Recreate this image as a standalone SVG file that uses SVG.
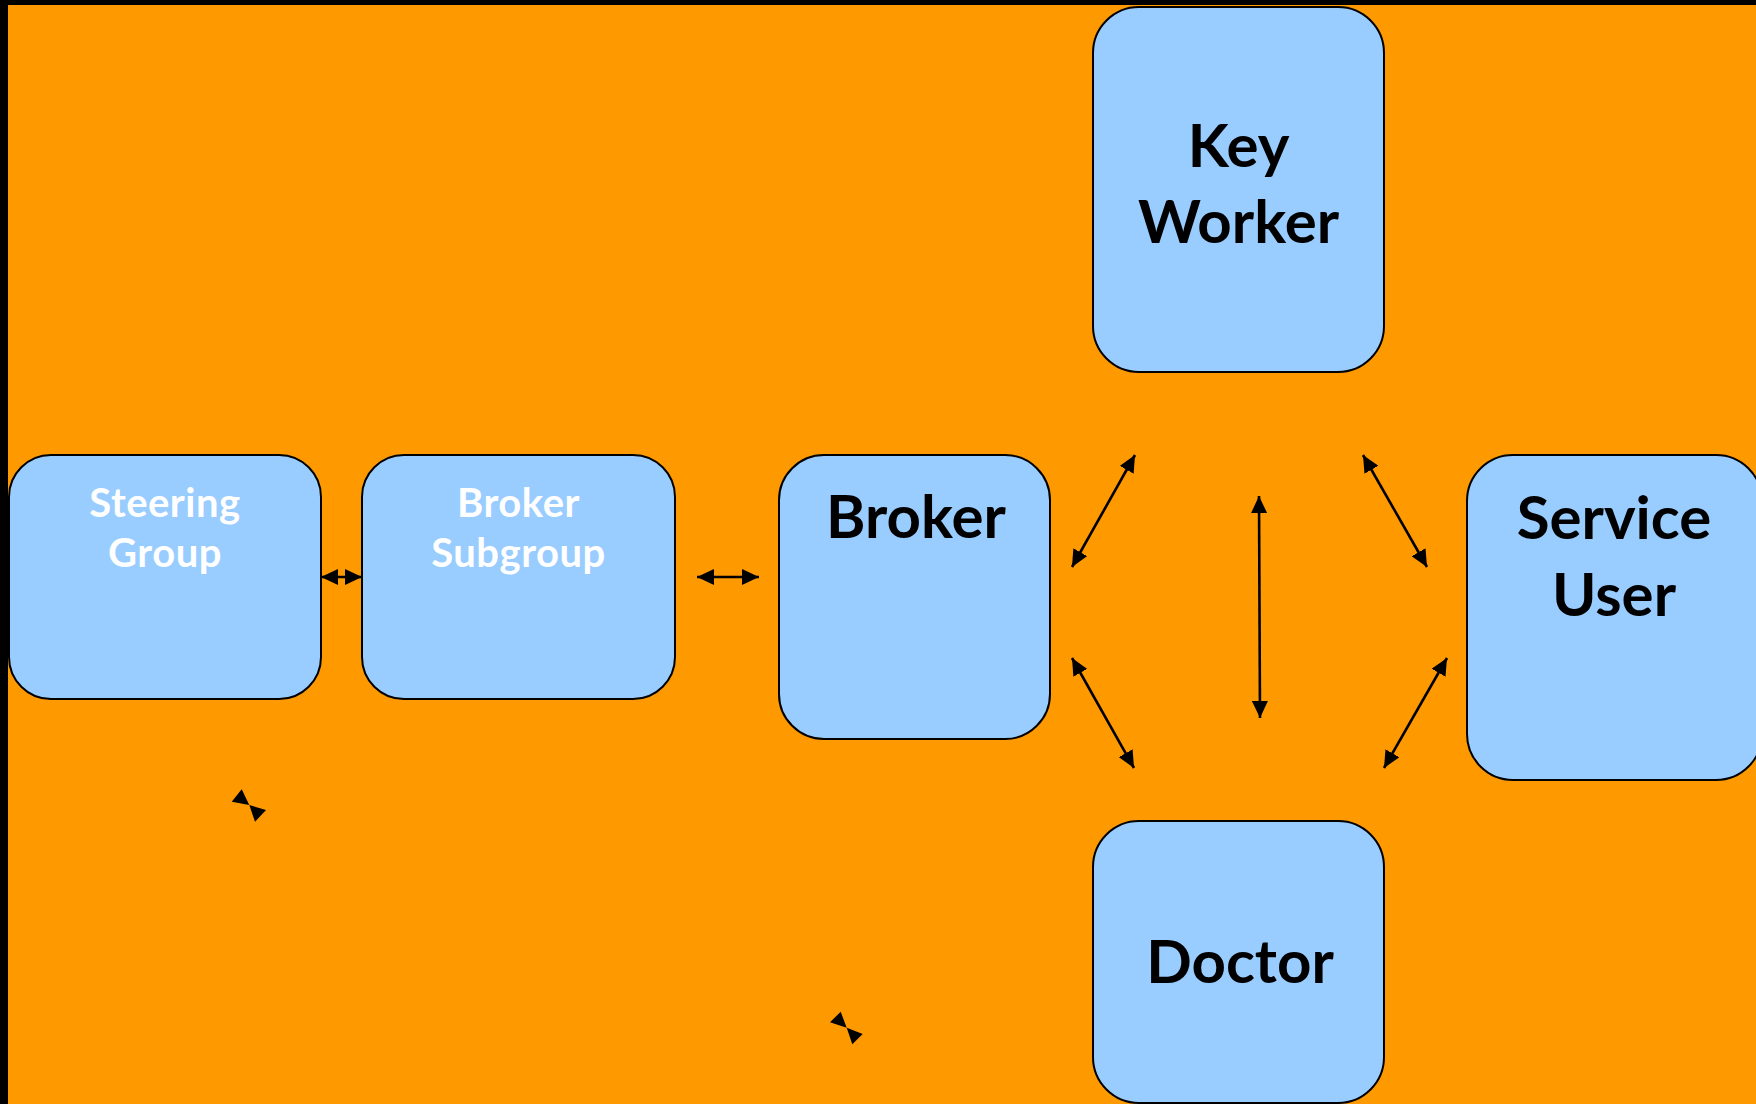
<svg xmlns="http://www.w3.org/2000/svg" width="1756" height="1104" viewBox="0 0 1756 1104">
<style>
.box{fill:#99CCFF;stroke:#000;stroke-width:2}
.big{font-family:Lato,"Liberation Sans",sans-serif;font-weight:bold;font-size:60px;fill:#000;text-anchor:middle}
.small{font-family:Lato,"Liberation Sans",sans-serif;font-weight:bold;font-size:40px;letter-spacing:0.5px;fill:#fff;text-anchor:middle}
.conn{stroke:#000;stroke-width:2.6;fill:none;marker-start:url(#ah);marker-end:url(#ah)}
.head{fill:#000}
</style>
<defs>
<marker id="ah" markerUnits="userSpaceOnUse" markerWidth="17" markerHeight="16" refX="17" refY="8" orient="auto-start-reverse" viewBox="0 0 17 16">
<path d="M0,0 L17,8 L0,16 z" fill="#000"/>
</marker>
</defs>
<rect x="0" y="0" width="1756" height="1104" fill="#000"/>
<rect x="8" y="5" width="1748" height="1099" fill="#FF9900"/>

<g id="steering-group">
<rect class="box" x="9" y="455" width="312" height="244" rx="42" ry="42"/>
<text class="small" x="165" y="517">Steering</text>
<text class="small" x="165" y="567">Group</text>
</g>
<g id="broker-subgroup">
<rect class="box" x="362" y="455" width="313" height="244" rx="42" ry="42"/>
<text class="small" x="518.5" y="517">Broker</text>
<text class="small" x="518.5" y="567">Subgroup</text>
</g>
<g id="broker">
<rect class="box" x="779" y="455" width="271" height="284" rx="45" ry="45"/>
<text class="big" x="916" y="538">Broker</text>
</g>
<g id="key-worker">
<rect class="box" x="1093" y="7" width="291" height="365" rx="46" ry="46"/>
<text class="big" x="1238.5" y="167">Key</text>
<text class="big" x="1238.5" y="243">Worker</text>
</g>
<g id="service-user">
<rect class="box" x="1467" y="455" width="295" height="325" rx="46" ry="46"/>
<text class="big" x="1614" y="539">Service</text>
<text class="big" x="1614" y="616">User</text>
</g>
<g id="doctor">
<rect class="box" x="1093" y="821" width="291" height="282" rx="46" ry="46"/>
<text class="big" x="1240" y="983">Doctor</text>
</g>

<g id="connectors">
<line class="conn" x1="321" y1="577" x2="362" y2="577"/>
<line class="conn" x1="697" y1="577" x2="759" y2="577"/>
<line class="conn" x1="1135" y1="455" x2="1072" y2="567"/>
<line class="conn" x1="1072" y1="658" x2="1134" y2="768"/>
<line class="conn" x1="1259" y1="496" x2="1260" y2="718"/>
<line class="conn" x1="1363" y1="455" x2="1427" y2="567"/>
<line class="conn" x1="1447" y1="658" x2="1384" y2="768"/>
<path class="head" d="M231.7,801.7 L241.7,789.3 L249.3,805 z M266,810 L255,821.7 L249.3,805 z"/>
<path class="head" d="M830,1022.3 L840.7,1011.7 L846.7,1027.7 z M862.7,1034 L852.3,1044.3 L846.7,1027.7 z"/>
</g>
</svg>
